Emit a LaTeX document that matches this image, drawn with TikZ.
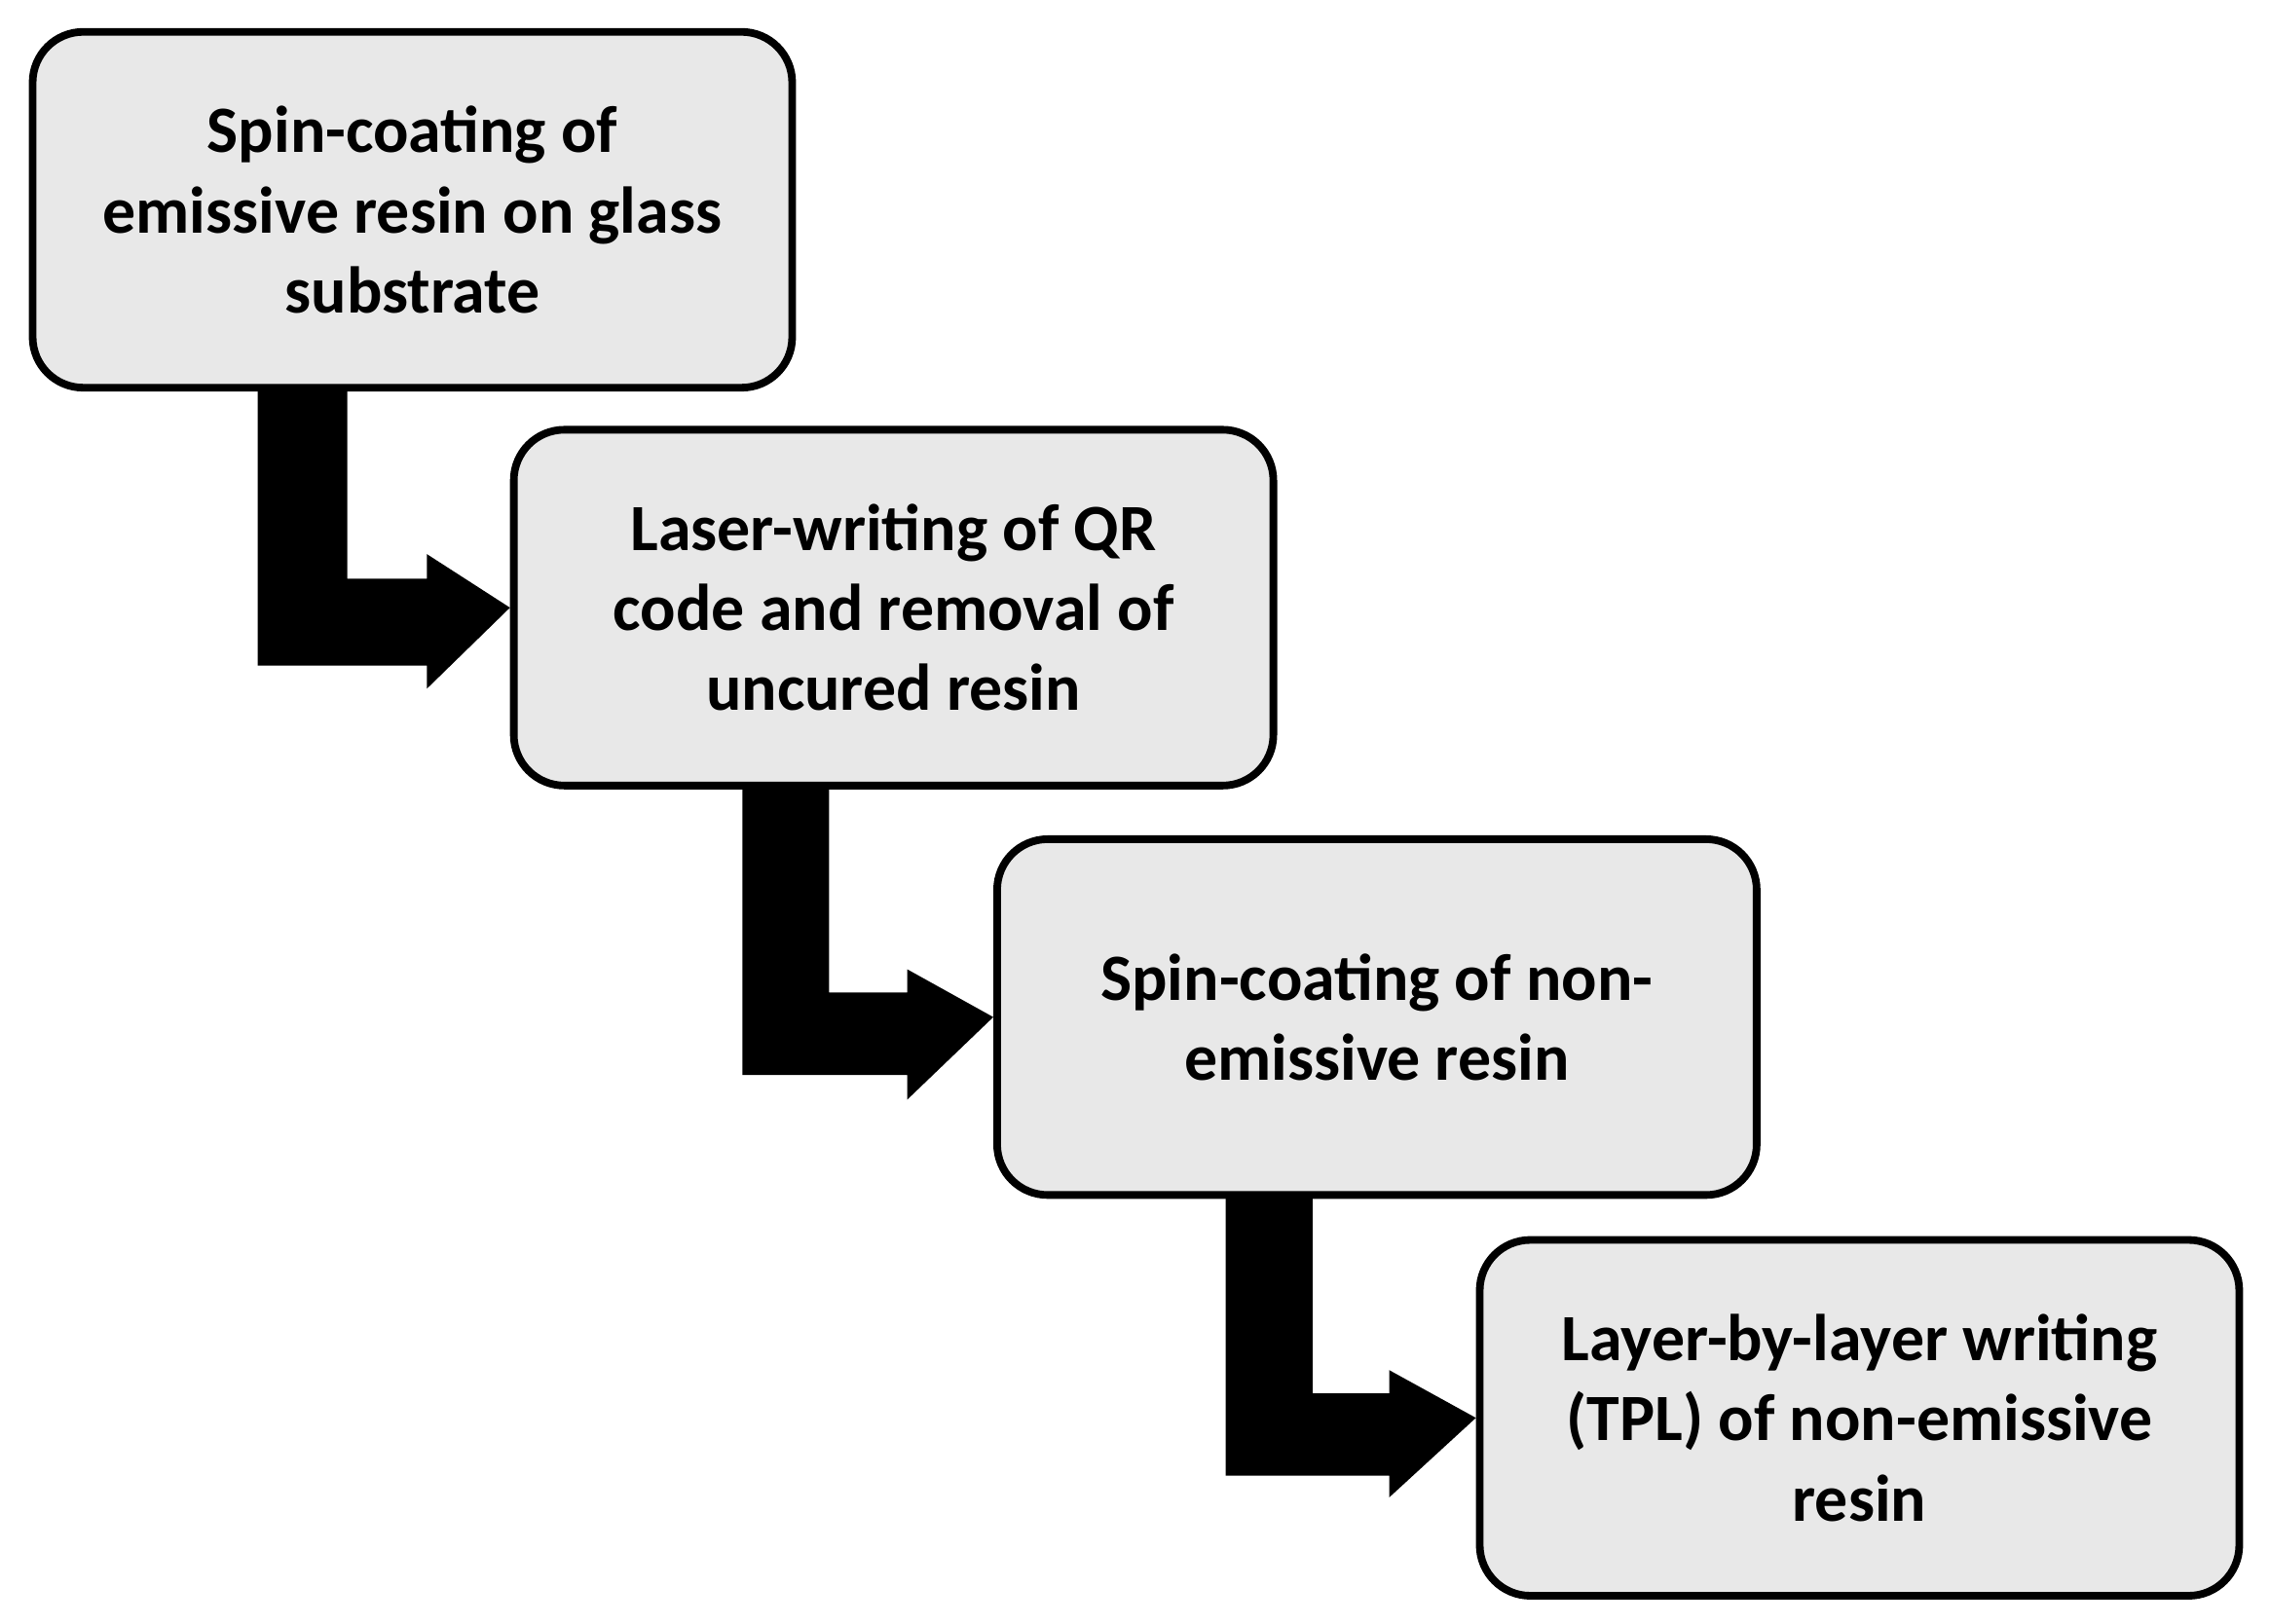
\documentclass[tikz,border=0pt]{standalone}
\usepackage{fontspec}
\setmainfont{Carlito}
\begin{document}
\begin{tikzpicture}[x=0.02cm,y=-0.02cm,
 box/.style={draw=black,line width=3pt,fill=gray!18,rounded corners=0.7cm,minimum width=10.5cm,minimum height=4.92cm,align=center,font=\fontsize{26}{31.5}\selectfont\bfseries,inner sep=0pt},
 arr/.style={fill=black,draw=none}]
\useasboundingbox (0,0) rectangle (1568,1122);
\node[box] (b1) at (285,145) {Spin-coating of\\emissive resin on glass\\substrate};
\node[box] (b2) at (617.5,420) {Laser-writing of QR\\code and removal of\\uncured resin};
\node[box] (b3) at (951.5,703) {Spin-coating of non-\\emissive resin};
\node[box] (b4) at (1285,980) {Layer-by-layer writing\\(TPL) of non-emissive\\resin};
\begin{scope}[on background layer/.try]
\fill[arr] (178,270) -- (240,270) -- (240,400) -- (295,400) -- (295,383) -- (b2.west) -- (295,476) -- (295,460) -- (178,460) -- cycle;
\fill[arr] (513,545) -- (573,545) -- (573,686) -- (627,686) -- (627,670) -- (b3.west) -- (627,760) -- (627,743) -- (513,743) -- cycle;
\fill[arr] (847,828) -- (907,828) -- (907,963) -- (960,963) -- (960,947) -- (b4.west) -- (960,1035) -- (960,1020) -- (847,1020) -- cycle;
\end{scope}
\end{tikzpicture}
\end{document}
